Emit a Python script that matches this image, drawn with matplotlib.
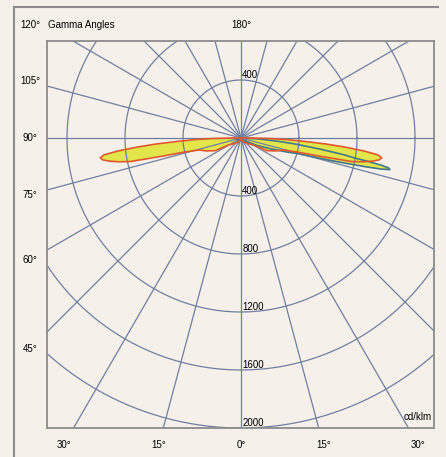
import numpy as np
import matplotlib
matplotlib.use("Agg")
import matplotlib.pyplot as plt

plt.rcParams['font.family'] = ['Liberation Sans', 'DejaVu Sans']

# luminous intensity distribution, cd/klm, against gamma angle (deg)
# C0-C180 plane (symmetric, same curve on both sides)
gamma_c0 = [0, 20, 40, 50, 60, 64, 70, 74, 76, 77, 78, 79, 80, 81, 82, 83, 84, 85, 86, 87, 88, 89, 90, 92, 180]
cd_c0 = [15, 20, 40, 60, 95, 200, 260, 300, 400, 560, 780, 860, 920, 965, 980, 950, 850, 720, 580, 430, 320, 200, 60, 5, 0]

# C90 plane (road side) and C270 plane (house side)
gamma_c90 = [0, 30, 50, 60, 65, 70, 73, 74.5, 76, 76.5, 77, 77.5, 78, 78.5, 79, 79.5, 80, 80.7,
             82, 83.7, 85, 87, 89, 90, 92, 180]
cd_c90 = [15, 20, 30, 60, 120, 220, 330, 400, 650, 760, 880, 990, 1050, 1040, 990, 900, 800, 726,
          550, 375, 250, 120, 50, 20, 0, 0]
gamma_c270 = [0, 30, 60, 75, 85, 90, 95, 180]
cd_c270 = [15, 20, 25, 30, 25, 15, 0, 0]

rings = [400, 800, 1200, 1600, 2000]
side_labels = [105, 90, 75, 60, 45]
bottom_labels = [30, 15, 0, 15, 30]

BG = '#f5f1ea'
GRID = '#6f7fa0'
FRAME = '#8c8c8c'
FILL = '#e2e64a'


def to_xy(gam, cd, side):
    g = np.radians(gam)
    cd = np.asarray(cd, dtype=float)
    return side * cd * np.sin(g), -cd * np.cos(g)


def closed_curve(g_right, i_right, g_left, i_left):
    xr, yr = to_xy(g_right, i_right, 1)
    xl, yl = to_xy(g_left, i_left, -1)
    return np.concatenate([xr, xl[::-1]]), np.concatenate([yr, yl[::-1]])


W, H = 446, 457
fig = plt.figure(figsize=(W / 100, H / 100), dpi=100)
fig.patch.set_facecolor(BG)

# plot box in pixels
left, right, top, bottom = 47, 434, 41, 428
cx, cy = 241, 138
scale = 290 / 2000.0  # px per cd/klm

ax = fig.add_axes([left / W, 1 - bottom / H, (right - left) / W, (bottom - top) / H])
ax.set_facecolor(BG)
ax.set_xlim((left - cx) / scale, (right - cx) / scale)
ax.set_ylim(-(bottom - cy) / scale, (cy - top) / scale)
ax.set_xticks([])
ax.set_yticks([])
for s in ax.spines.values():
    s.set_color(FRAME)
    s.set_linewidth(1.3)

# curves: fill first, grid over it, outlines on top
x0, y0 = closed_curve(gamma_c0, cd_c0, gamma_c0, cd_c0)
x9, y9 = closed_curve(gamma_c90, cd_c90, gamma_c270, cd_c270)
ax.fill(x9, y9, color=FILL, lw=0, zorder=1)
ax.fill(x0, y0, color=FILL, lw=0, zorder=1)

# polar grid
t = np.linspace(0, 2 * np.pi, 400)
for r in rings:
    ax.plot(r * np.cos(t), r * np.sin(t), color=GRID, lw=0.9, zorder=2)
for a in range(0, 360, 15):
    ar = np.radians(a)
    ax.plot([0, 4000 * np.sin(ar)], [0, -4000 * np.cos(ar)], color=GRID, lw=0.9, zorder=2)

ax.plot(x9, y9, color='#44788a', lw=1.2, zorder=3)
ax.plot(x0, y0, color='#e2582e', lw=1.2, zorder=3)

for r in rings:
    ax.text(8, -r, str(r), fontsize=7, ha='left', va='bottom', zorder=4)
ax.text(8, rings[0], str(rings[0]), fontsize=7, ha='left', va='bottom', zorder=4)
ax.text(ax.get_xlim()[1] - 15, -(bottom - cy) / scale + 40, 'cd/klm',
        fontsize=7, ha='right', va='bottom', zorder=4)

# gamma labels, on the radial lines extended outside the box
col_x = (30 - cx) / scale
row_top = (cy - 25) / scale
row_bot = -(445 - cy) / scale
for g in side_labels:
    y = -abs(col_x) / np.tan(np.radians(g)) if g != 90 else 0.0
    ax.text(col_x, y, f'{g}°', fontsize=7, ha='center', va='center', clip_on=False)
for i, g in enumerate(bottom_labels):
    sgn = -1 if i < 2 else 1
    x = sgn * abs(row_bot) * np.tan(np.radians(g))
    ax.text(x, row_bot, f'{g}°', fontsize=7, ha='center', va='center', clip_on=False)
ax.text(col_x, row_top, '120°', fontsize=7, ha='center', va='center', clip_on=False)
ax.text(0, row_top, '180°', fontsize=7, ha='center', va='center', clip_on=False)
ax.text((48 - cx) / scale, row_top, 'Gamma Angles', fontsize=7, ha='left', va='center', clip_on=False)

# outer frame (left and top edges)
fig.add_artist(plt.Line2D([14 / W, 14 / W], [0, 1 - 7 / H], color=FRAME, lw=1.5))
fig.add_artist(plt.Line2D([14 / W, 438 / W], [1 - 7 / H, 1 - 7 / H], color=FRAME, lw=1.5))

fig.savefig('out.png', dpi=100, facecolor=BG)
